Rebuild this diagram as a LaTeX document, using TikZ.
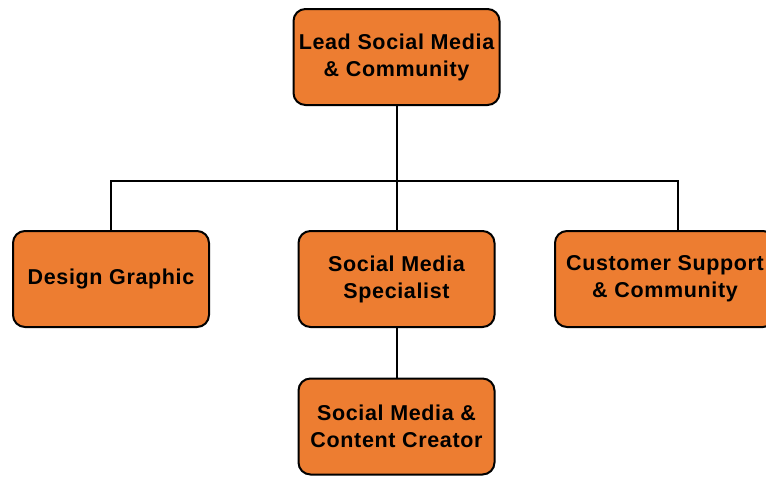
\documentclass[tikz,border=0pt]{standalone}
\usepackage{fontspec}
\setmainfont{Liberation Sans}
\usepackage{tikz}
\usetikzlibrary{calc}
\definecolor{org-fill}{HTML}{ED7D31}

\tikzset{
    unit/.style={draw=black, line width=2pt, fill=org-fill, rounded corners=12pt,
        minimum width=196pt, minimum height=96pt, align=center,
        font=\fontsize{21.5}{27}\selectfont\bfseries\addfontfeature{LetterSpace=3}},
    link/.style={line width=2pt, black}
}

\begin{document}
\begin{tikzpicture}[x=1pt, y=-1pt]

    \useasboundingbox (0,0) rectangle (766,477);

    % Head of the team
    \node[unit, minimum width=206pt] (lead) at (396.5,57) {Lead Social Media\\\& Community};

    % Second level
    \node[unit] (design) at (111,279) {Design Graphic};
    \node[unit] (spec) at (396.5,279) {Social Media\\Specialist};
    \node[unit, minimum width=220pt] (cust) at (665,279) {Customer Support\\\& Community};

    % Third level
    \node[unit] (creator) at (396.5,426.5) {Social Media \&\\Content Creator};

    % Bus line under the lead
    \coordinate (bus) at (396.5,181);

    % Connectors
    \draw[link] (lead.south) -- (spec.north);
    \draw[link] (design.north) |- (bus) -| ([xshift=13pt]cust.north);
    \draw[link] (spec.south) -- (creator.north);

\end{tikzpicture}
\end{document}
